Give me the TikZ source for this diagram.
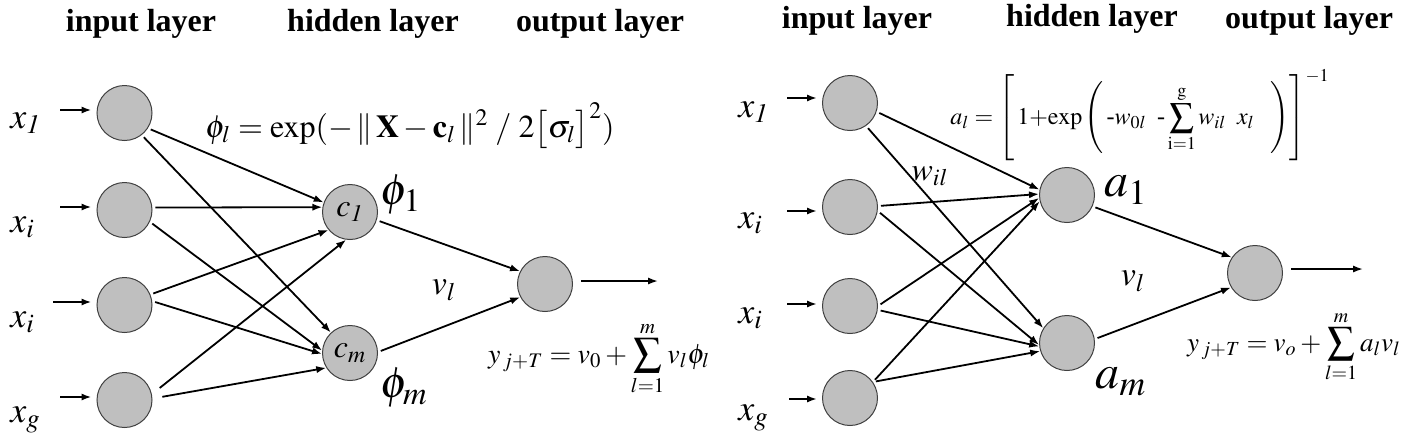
\documentclass[tikz,border=0pt]{standalone}
\usepackage{amsmath}
\usepackage{mathptmx}
\usepackage[no-math]{fontspec}
\setmainfont{Liberation Serif}
\usepackage{tikz}
\usetikzlibrary{arrows.meta,calc,positioning}
\tikzset{>={Latex[length=5pt,width=3.6pt]}}
\tikzset{
  neuron/.style={circle,draw=black!75,line width=0.5pt,fill=gray!50,minimum size=27.5pt,inner sep=0pt,font=\fontsize{16}{18}\selectfont},
  link/.style={->,line width=0.9pt,shorten <=1.5pt},
  feed/.style={->,line width=1.3pt},
  layer/.style={font=\fontsize{16}{18}\selectfont\bfseries,anchor=base,inner sep=0pt},
  inlbl/.style={font=\fontsize{18}{20}\selectfont,anchor=base west,inner sep=0pt},
  biglbl/.style={font=\fontsize{22}{24}\selectfont,inner sep=0pt},
  midlbl/.style={font=\fontsize{17}{19}\selectfont,inner sep=0pt},
  formula/.style={font=\fontsize{14}{16}\selectfont,anchor=base,inner sep=0pt},
}

\begin{document}
\begin{tikzpicture}[x=0.5pt,y=-0.5pt]
\useasboundingbox (0,0) rectangle (1425,447);

% RBF network
\node[layer] (hin) at (141,31) {input layer};
\node[layer] (hhid) at (373,31) {hidden layer};
\node[layer] (hout) at (600,31) {output layer};

\foreach \n/\y in {1/113,2/210,3/305,4/400}
  \node[neuron] (in\n) at (124.5,\y) {};
\node[neuron] (c1) at (350,212) {$c_{\mathit{1}}$};
\node[neuron] (cm) at (350,353) {$c_m$};
\node[neuron] (out) at (545,284) {};

\node[inlbl] (lx1) at (10,128) {$x_{\mathit{1}}$};
\node[inlbl] (lx2) at (10,232) {$x_i$};
\node[inlbl] (lx3) at (10,327) {$x_i$};
\node[inlbl] (lx4) at (10,422) {$x_g$};

\coordinate (s1) at (60,110);
\coordinate (s2) at (60,207);
\coordinate (s3) at (53,302);
\coordinate (s4) at (60,397);
\foreach \n in {1,...,4}
  \draw[feed] (s\n) -- (s\n -| in\n.west) [shorten >=2.5pt];

\draw[link] (in1.-33) -- (c1.160);
\draw[link] (in1.-52) -- (cm.133);
\draw[link] (in2.5) -- (c1.170);
\draw[link] (in2.-25) -- (cm.175);
\draw[link] (in3.22) -- (c1.220);
\draw[link] (in3.8) -- (cm.182);
\draw[link,shorten <=5pt] (in4.12) -- (c1.262);
\draw[link,shorten <=5pt] (in4.3) -- (cm.212);
\draw[link] (c1.-17) -- (out.153);
\draw[link] (cm.2) -- (out.208);

\coordinate (e1) at (658,281);
\draw[link,shorten <=4pt] (out.east |- e1) -- (e1);

\node[biglbl] (phi1) at (401,195) {$\phi_1$};
\node[biglbl] (phim) at (404,388) {$\phi_m$};
\node[midlbl] (vl) at (444,290) {$v_l$};

\node[formula,font=\fontsize{16}{18}\selectfont] (phil) at (410,137)
  {$\phi_l = \exp(-\,\|\,\mathbf{X}-\mathbf{c}_l\,\|^2\;/\;2\bigl[\sigma_l\bigr]^2)$};
\node[formula] (yl) at (599,363)
  {$y_{\,j+T} = v_0 + \displaystyle\sum_{l=1}^{m} v_l\phi_l$};

% MLP network
\node[layer] (rhin) at (857,28) {input layer};
\node[layer] (rhhid) at (1092,26) {hidden layer};
\node[layer] (rhout) at (1309,28) {output layer};

\foreach \n/\y in {1/103,2/207,3/306,4/398}
  \node[neuron] (rin\n) at (850,\y) {};
\node[neuron] (a1) at (1067,195) {};
\node[neuron] (am) at (1067,343) {};
\node[neuron] (rout) at (1255,273) {};

\node[inlbl] (rx1) at (738,117) {$x_{\mathit{1}}$};
\node[inlbl] (rx2) at (738,228) {$x_i$};
\node[inlbl] (rx3) at (738,323) {$x_i$};
\node[inlbl] (rx4) at (738,420) {$x_g$};

\coordinate (t1) at (787,98);
\coordinate (t2) at (787,211);
\coordinate (t3) at (787,304);
\coordinate (t4) at (789,399);
\foreach \n in {1,...,4}
  \draw[feed] (t\n) -- (t\n -| rin\n.west) [shorten >=2.5pt];

\draw[link] (rin1.-18) -- (a1.169);
\draw[link] (rin1.-55) -- (am.148);
\draw[link] (rin2.2) -- (a1.178);
\draw[link] (rin2.-8) -- (am.184);
\draw[link] (rin3.0) -- (a1.186);
\draw[link] (rin3.-8) -- (am.187);
\draw[link] (rin4.35) -- (a1.193);
\draw[link] (rin4.35) -- (am.197);
\draw[link] (a1.-24) -- (rout.146);
\draw[link] (am.8) -- (rout.211);

\coordinate (e2) at (1363,269);
\draw[link,shorten <=4pt] (rout.east |- e2) -- (e2);

\node[biglbl,font=\fontsize{24}{26}\selectfont] (la1) at (1126,190) {$a_1$};
\node[biglbl,font=\fontsize{24}{26}\selectfont] (lam) at (1121,382) {$a_m$};
\node[midlbl] (rvl) at (1133,281) {$v_l$};
\node[midlbl,font=\fontsize{16}{18}\selectfont] (wil) at (930,176) {$w_{il}$};

\node[formula,font=\fontsize{12}{14}\selectfont] (al) at (1140,124)
  {$a_l = \left[\rule{0pt}{23pt}\,1{+}\mathrm{exp}\left(\,\text{-}w_{0l}\;\;\text{-}\displaystyle\sum_{\mathrm{i=1}}^{\mathrm{g}} w_{il}\;\;x_l\;\;\;\right)\right]^{-1}$};
\node[formula,font=\fontsize{13.5}{16}\selectfont] (yr) at (1294,351)
  {$y_{\,j+T} = v_o + \displaystyle\sum_{l=1}^{m} a_l v_l$};
\end{tikzpicture}
\end{document}
